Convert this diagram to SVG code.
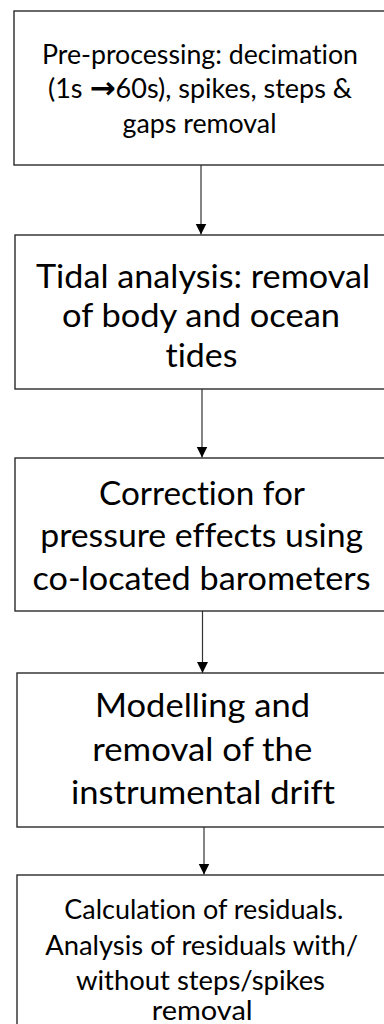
<svg xmlns="http://www.w3.org/2000/svg" width="384" height="1024" viewBox="0 0 384 1024">
<style>
.box{fill:#fff;stroke:#2a2a2a;stroke-width:1.4}
.conn{stroke:#333;stroke-width:1.2;fill:none}
.s,.l{font-family:Lato,"Open Sans","Liberation Sans",sans-serif;fill:#000;text-anchor:middle;font-variant-ligatures:none;font-feature-settings:"liga" 0,"clig" 0}
.s{font-size:26px}
.l{font-size:32.5px}
.arr{font-family:"DejaVu Sans",sans-serif;font-weight:bold;font-size:30px}
</style>
<defs>
<marker id="ah" markerUnits="userSpaceOnUse" markerWidth="12" markerHeight="12" viewBox="0 0 12 12" refX="11" refY="6" orient="auto">
<path d="M0,0.5 L11,6 L0,11.5 Z" fill="#000"/>
</marker>
</defs>
<rect width="384" height="1024" fill="#fff"/>
<g id="connectors">
<line class="conn" x1="201" y1="165" x2="201" y2="234.5" marker-end="url(#ah)"/>
<line class="conn" x1="202" y1="389" x2="202" y2="457.5" marker-end="url(#ah)"/>
<line class="conn" x1="202.5" y1="611" x2="202.5" y2="673" marker-end="url(#ah)"/>
<line class="conn" x1="204" y1="827" x2="204" y2="874.5" marker-end="url(#ah)"/>
</g>
<g id="node1">
<rect class="box" x="14" y="11" width="380" height="154"/>
<text class="s" x="200" y="63.5" textLength="316" lengthAdjust="spacingAndGlyphs">Pre-processing: decimation</text>
<text class="s" x="200" y="98" textLength="304" lengthAdjust="spacingAndGlyphs">(1s <tspan class="arr">→</tspan>60s), spikes, steps &amp;</text>
<text class="s" x="199.5" y="132.5" textLength="154" lengthAdjust="spacingAndGlyphs">gaps removal</text>
</g>
<g id="node2">
<rect class="box" x="15" y="235" width="380" height="154"/>
<text class="l" x="203" y="288" textLength="334" lengthAdjust="spacingAndGlyphs">Tidal analysis: removal</text>
<text class="l" x="201" y="327" textLength="278" lengthAdjust="spacingAndGlyphs">of body and ocean</text>
<text class="l" x="201.5" y="366.5" textLength="72" lengthAdjust="spacingAndGlyphs">tides</text>
</g>
<g id="node3">
<rect class="box" x="15" y="458" width="380" height="153"/>
<text class="l" x="202" y="505" textLength="206" lengthAdjust="spacingAndGlyphs">Correction for</text>
<text class="l" x="201.7" y="547" textLength="323" lengthAdjust="spacingAndGlyphs">pressure effects using</text>
<text class="l" x="201.5" y="590" textLength="338" lengthAdjust="spacingAndGlyphs">co-located barometers</text>
</g>
<g id="node4">
<rect class="box" x="17" y="673" width="378" height="154"/>
<text class="l" x="202.5" y="717" textLength="215" lengthAdjust="spacingAndGlyphs">Modelling and</text>
<text class="l" x="202.3" y="761" textLength="220" lengthAdjust="spacingAndGlyphs">removal of the</text>
<text class="l" x="203" y="804" textLength="264" lengthAdjust="spacingAndGlyphs">instrumental drift</text>
</g>
<g id="node5">
<rect class="box" x="17" y="875" width="378" height="170"/>
<text class="s" x="203.8" y="918.5" textLength="279" lengthAdjust="spacingAndGlyphs">Calculation of residuals.</text>
<text class="s" x="201.7" y="954.5" textLength="313" lengthAdjust="spacingAndGlyphs">Analysis of residuals with/</text>
<text class="s" x="200.5" y="990" textLength="249" lengthAdjust="spacingAndGlyphs">without steps/spikes</text>
<text class="s" x="202.2" y="1020" textLength="101" lengthAdjust="spacingAndGlyphs">removal</text>
</g>
</svg>
